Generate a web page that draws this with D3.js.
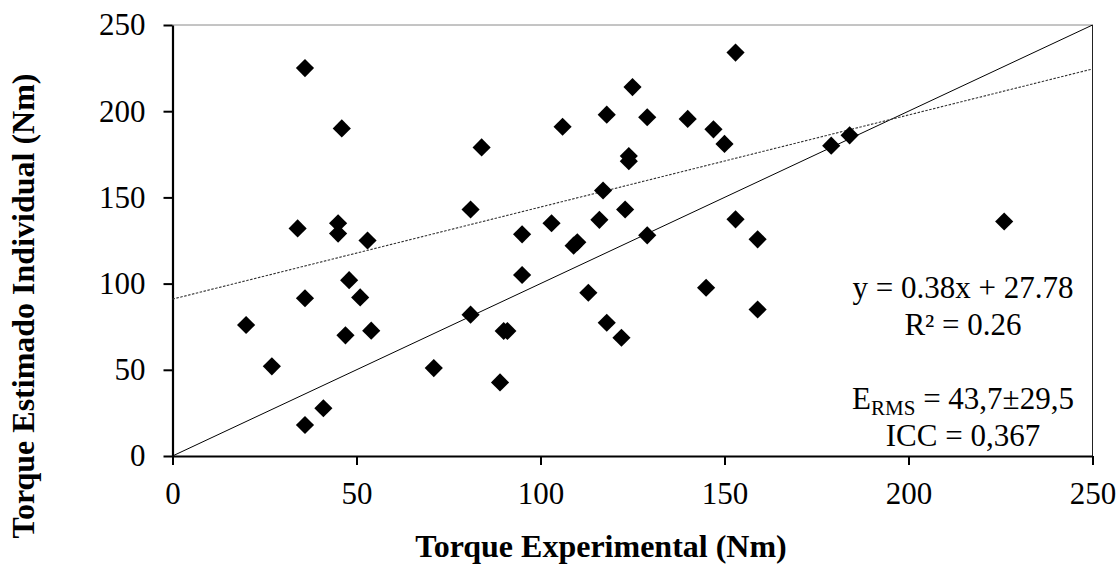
<!DOCTYPE html>
<html>
<head>
<meta charset="utf-8">
<script src="https://cdn.jsdelivr.net/npm/d3@7"></script>
<style>
  body { margin: 0; background: #fff; }
  svg { display: block; font-family: "Liberation Serif", "Times New Roman", serif; }
</style>
</head>
<body>
<div id="chart"></div>
<script>
// Experimental torque (x) vs individual estimated torque (y), in Nm
const torqueExp = [36, 46, 84, 106, 118, 125, 124, 124, 117, 123,
                   116, 103, 95, 110, 109, 81, 34, 45, 45, 53,
                   48, 51, 36, 20, 47, 54, 27, 41, 36, 71,
                   81, 90, 91, 89, 95, 113, 118, 122, 153, 129,
                   140, 147, 150, 179, 184, 153, 129, 159, 226, 145, 159];
const torqueEst = [225, 190, 179, 191, 198, 214, 174, 171, 154, 143,
                   137, 135, 128.6, 124, 122, 143, 132, 135, 129, 125,
                   102, 92, 91.5, 76, 70, 72.7, 52, 27.7, 18, 51,
                   82, 72.5, 72.5, 42.7, 105, 94.7, 77.3, 68.6, 234, 196.5,
                   195.5, 189.5, 181, 180, 186, 137.3, 128, 125.7, 136, 97.6, 85];

// identity line and trend line, endpoints
const identityX = [0, 250];
const identityY = [0, 250];
const trendX = [0, 250];
const trendY = [91, 224.5];

const ticks = [0, 50, 100, 150, 200, 250];
const statLines = ["y = 0.38x + 27.78", "R² = 0.26"];
const iccLine = "ICC = 0,367";

const width = 1120, height = 570;
const plotLeft = 172.5, plotRight = 1092.5, plotTop = 25, plotBottom = 456;

const svg = d3.select("#chart")
    .append("svg")
    .attr("width", width)
    .attr("height", height);

const x = d3.scaleLinear().domain([0, 250]).range([plotLeft, plotRight]);
const y = d3.scaleLinear().domain([0, 250]).range([plotBottom, plotTop]);

// frame: top and right thin
svg.append("line")
    .attr("x1", plotLeft).attr("x2", plotRight)
    .attr("y1", plotTop).attr("y2", plotTop)
    .attr("stroke", "#8a8a8a").attr("stroke-width", 1);
svg.append("line")
    .attr("x1", plotRight).attr("x2", plotRight)
    .attr("y1", plotTop).attr("y2", plotBottom)
    .attr("stroke", "#222").attr("stroke-width", 1);

// axes
const xAxis = svg.append("g")
    .attr("transform", `translate(0,${plotBottom})`)
    .call(d3.axisBottom(x).tickValues(ticks).tickSize(9).tickPadding(17).tickSizeOuter(0));
const yAxis = svg.append("g")
    .attr("transform", `translate(${plotLeft},0)`)
    .call(d3.axisLeft(y).tickValues(ticks).tickSize(9).tickPadding(18).tickSizeOuter(0));

[xAxis, yAxis].forEach(g => {
    g.select(".domain").attr("stroke", "#000").attr("stroke-width", 2.2);
    g.selectAll(".tick line").attr("stroke", "#000").attr("stroke-width", 2);
    g.selectAll(".tick text")
        .attr("fill", "#000")
        .style("font-family", '"Liberation Serif", serif')
        .style("font-size", "31px");
});

// reference lines
const line = d3.line().x(d => x(d[0])).y(d => y(d[1]));

svg.append("path")
    .datum(identityX.map((v, i) => [v, identityY[i]]))
    .attr("d", line)
    .attr("fill", "none")
    .attr("stroke", "#000")
    .attr("stroke-width", 1);

svg.append("path")
    .datum(trendX.map((v, i) => [v, trendY[i]]))
    .attr("d", line)
    .attr("fill", "none")
    .attr("stroke", "#333")
    .attr("stroke-width", 1.1)
    .attr("stroke-dasharray", "2.5,1.5");

// diamond markers
const diamond = d3.symbol().type(d3.symbolSquare).size(165);
svg.append("g")
    .selectAll("path")
    .data(torqueExp.map((v, i) => [v, torqueEst[i]]))
    .enter()
    .append("path")
    .attr("d", diamond)
    .attr("transform", d => `translate(${x(d[0])},${y(d[1])}) rotate(45)`)
    .attr("fill", "#000");

// annotation text
const annoX = 963;
svg.append("text")
    .attr("x", annoX).attr("y", 298)
    .attr("text-anchor", "middle")
    .style("font-size", "31px")
    .text(statLines[0]);
svg.append("text")
    .attr("x", annoX).attr("y", 335)
    .attr("text-anchor", "middle")
    .style("font-size", "31px")
    .text(statLines[1]);

const erms = svg.append("text")
    .attr("x", annoX).attr("y", 409)
    .attr("text-anchor", "middle")
    .style("font-size", "31px");
erms.append("tspan").text("E");
erms.append("tspan").attr("dy", 6).style("font-size", "21px").text("RMS");
erms.append("tspan").attr("dy", -6).text(" = 43,7±29,5");

svg.append("text")
    .attr("x", annoX).attr("y", 446)
    .attr("text-anchor", "middle")
    .style("font-size", "31px")
    .text(iccLine);

// axis titles
svg.append("text")
    .attr("x", 601)
    .attr("y", 557)
    .attr("text-anchor", "middle")
    .style("font-size", "32px")
    .style("font-weight", "bold")
    .text("Torque Experimental (Nm)");

svg.append("text")
    .attr("transform", "translate(34,306) rotate(-90)")
    .attr("text-anchor", "middle")
    .style("font-size", "32px")
    .style("font-weight", "bold")
    .text("Torque Estimado Individual (Nm)");
</script>
</body>
</html>
